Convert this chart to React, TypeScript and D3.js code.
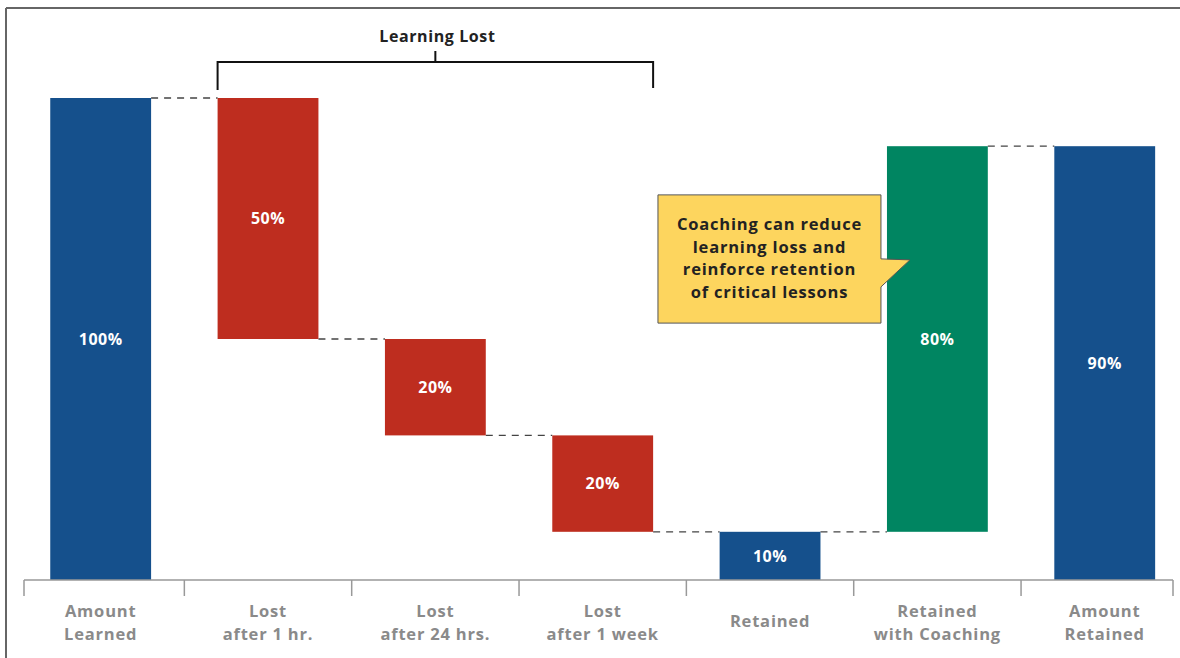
import React from "react";
import * as d3 from "d3";

const categories: string[][] = [
  ["Amount", "Learned"],
  ["Lost", "after 1 hr."],
  ["Lost", "after 24 hrs."],
  ["Lost", "after 1 week"],
  ["Retained"],
  ["Retained", "with Coaching"],
  ["Amount", "Retained"],
];
const barStart = [0, 50, 30, 10, 0, 10, 0];
const barEnd = [100, 100, 50, 30, 10, 90, 90];
const valueLabels = ["100%", "50%", "20%", "20%", "10%", "80%", "90%"];
const kinds = ["total", "loss", "loss", "loss", "total", "gain", "total"];
const runningLevel = [100, 50, 30, 10, 10, 90, 90];
const calloutLines = [
  "Coaching can reduce",
  "learning loss and",
  "reinforce retention",
  "of critical lessons",
];
const bracketTitle = "Learning Lost";

const W = 1180;
const H = 658;
const FONT = "'Open Sans', Lato, sans-serif";
const COLORS: Record<string, string> = {
  total: "#15508C",
  loss: "#BE2D1F",
  gain: "#008561",
};

export default function App() {
  const keys = categories.map((c) => c.join(" "));
  const pad = 0.3974;
  const x = d3
    .scaleBand<string>()
    .domain(keys)
    .range([17, 1188.4])
    .paddingInner(pad)
    .paddingOuter(pad / 2);
  const y = d3.scaleLinear().domain([0, 100]).range([580, 98]);
  const bw = x.bandwidth();
  const step = x.step();
  const half = (step * pad) / 2;

  const axisY = y(0);
  const axisLeft = 24;
  const axisRight = 1173;
  const tickXs = [
    axisLeft,
    ...keys.slice(1).map((k) => (x(k) as number) - half),
    axisRight,
  ];

  // bracket over loss bars
  const b0 = x(keys[1]) as number;
  const b1 = (x(keys[3]) as number) + bw;
  const bMid = (b0 + b1) / 2;

  // callout
  const gx = x(keys[5]) as number;
  const boxR = gx - 6;
  const boxL = boxR - 223;
  const boxT = y(79.9);
  const boxB = y(53.3);
  const cx = (boxL + boxR) / 2;

  return (
    <svg
      width={W}
      height={H}
      style={{ position: "absolute", left: 0, top: 0, background: "#fff" }}
      fontFamily={FONT}
    >
      {/* frame */}
      <line x1={6} y1={8} x2={W} y2={8} stroke="#666" strokeWidth={2} />
      <line x1={6} y1={8} x2={6} y2={H} stroke="#666" strokeWidth={2} />

      {/* connectors */}
      {keys.slice(0, -1).map((k, i) => (
        <line
          key={"c" + i}
          x1={(x(k) as number) + bw}
          x2={x(keys[i + 1]) as number}
          y1={y(runningLevel[i])}
          y2={y(runningLevel[i])}
          stroke="#444"
          strokeWidth={1.3}
          strokeDasharray="7,6"
        />
      ))}

      {/* bars */}
      {keys.map((k, i) => (
        <rect
          key={k}
          x={x(k)}
          width={bw}
          y={y(barEnd[i])}
          height={y(barStart[i]) - y(barEnd[i])}
          fill={COLORS[kinds[i]]}
        />
      ))}

      {/* callout */}
      <path
        d={`M${boxL},${boxT} L${boxR},${boxT} L${boxR},${boxT + 64} L${boxR + 29},${boxT + 65} L${boxR},${boxT + 92} L${boxR},${boxB} L${boxL},${boxB} Z`}
        fill="#FDD55E"
        stroke="#555"
        strokeWidth={1}
      />
      {calloutLines.map((t, i) => (
        <text
          key={"cl" + i}
          x={cx}
          y={boxT + 35 + i * 22.7}
          textAnchor="middle"
          fontSize={16.5}
          fontWeight={700}
          letterSpacing={0.8}
          fill="#222"
        >
          {t}
        </text>
      ))}

      {/* value labels */}
      {keys.map((k, i) => (
        <text
          key={"v" + i}
          x={(x(k) as number) + bw / 2}
          y={(y(barStart[i]) + y(barEnd[i])) / 2}
          dy="0.35em"
          textAnchor="middle"
          fontSize={16}
          fontWeight={700}
          letterSpacing={0.5}
          fill="#fff"
        >
          {valueLabels[i]}
        </text>
      ))}

      {/* bracket */}
      <path
        d={`M${b0},90 L${b0},62 L${b1},62 L${b1},88 M${bMid},62 L${bMid},51`}
        fill="none"
        stroke="#111"
        strokeWidth={2}
      />
      <text
        x={bMid + 2}
        y={42}
        textAnchor="middle"
        fontSize={16}
        fontWeight={700}
        letterSpacing={0.6}
        fill="#222"
      >
        {bracketTitle}
      </text>

      {/* axis */}
      <line
        x1={axisLeft}
        x2={axisRight}
        y1={axisY}
        y2={axisY}
        stroke="#999"
        strokeWidth={1.5}
      />
      {tickXs.map((tx, i) => (
        <line
          key={"t" + i}
          x1={tx}
          x2={tx}
          y1={axisY}
          y2={axisY + 16}
          stroke="#999"
          strokeWidth={1.5}
        />
      ))}
      {keys.map((k, i) => {
        const lines = categories[i];
        const cxl = (x(k) as number) + bw / 2;
        return (
          <text
            key={"a" + i}
            textAnchor="middle"
            fontSize={16.5}
            fontWeight={700}
            letterSpacing={0.8}
            fill="#8A8A8A"
          >
            {lines.map((ln, j) => (
              <tspan
                key={j}
                x={cxl}
                y={lines.length === 1 ? 627 : 617 + j * 23}
              >
                {ln}
              </tspan>
            ))}
          </text>
        );
      })}
    </svg>
  );
}
